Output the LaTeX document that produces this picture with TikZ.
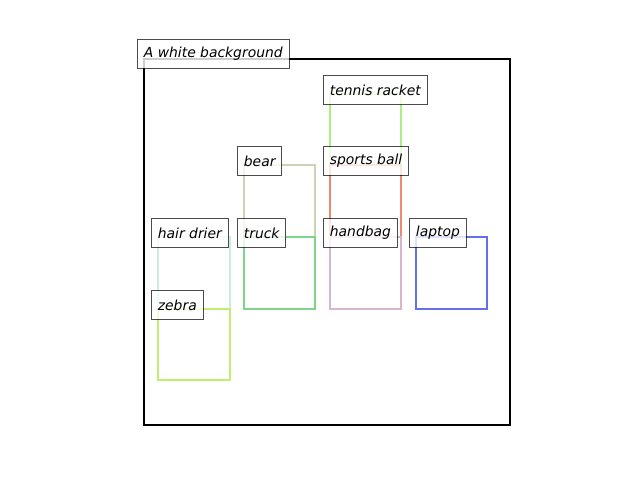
\documentclass[tikz,border=0pt]{standalone}
\usepackage{fontspec}
\setmainfont{DejaVu Sans}
\begin{document}
\begin{tikzpicture}[x=0.72pt,y=-0.72pt,
  lbl/.style={draw=black,draw opacity=0.7,fill=white,fill opacity=0.8,text opacity=1,
    line width=0.72pt,anchor=west,inner xsep=4.6pt,inner ysep=0pt,minimum height=20.2pt,
    font=\fontsize{10}{12}\selectfont\itshape},
  bx/.style={line width=1.5pt}]
\useasboundingbox (0,0) rectangle (640,480);
\definecolor{cRacket}{HTML}{AAF27F}
\definecolor{cBall}{HTML}{EF8A6E}
\definecolor{cBear}{HTML}{CAD4B4}
\definecolor{cTruck}{HTML}{7FD48C}
\definecolor{cDrier}{HTML}{CBEBE3}
\definecolor{cZebra}{HTML}{C0EE72}
\definecolor{cBag}{HTML}{D9B5CD}
\definecolor{cLaptop}{HTML}{6270EE}
% boxes
\draw[bx,black] (144,59) rectangle (510,425);
\draw[bx,cRacket] (330,94) rectangle (401,165);
\draw[bx,cBall] (330,165) rectangle (401,237);
\draw[bx,cBear] (244,165) rectangle (315,237);
\draw[bx,cTruck] (244,237) rectangle (315,309);
\draw[bx,cDrier] (158,237) rectangle (230,309);
\draw[bx,cZebra] (158,309) rectangle (230,380);
\draw[bx,cBag] (330,237) rectangle (401,309);
\draw[bx,cLaptop] (416,237) rectangle (487,309);
% labels
\node[lbl] (lbg) at (137,54) {A white background};
\node[lbl] (lracket) at (323,90) {tennis racket};
\node[lbl] (lball) at (323,161) {sports ball};
\node[lbl] (lbear) at (237,161) {bear};
\node[lbl] (ldrier) at (151,233) {hair drier};
\node[lbl] (ltruck) at (237,233) {truck};
\node[lbl] (lbag) at (323,233) {handbag};
\node[lbl] (llaptop) at (409,233) {laptop};
\node[lbl] (lzebra) at (151,305) {zebra};
\end{tikzpicture}
\end{document}
